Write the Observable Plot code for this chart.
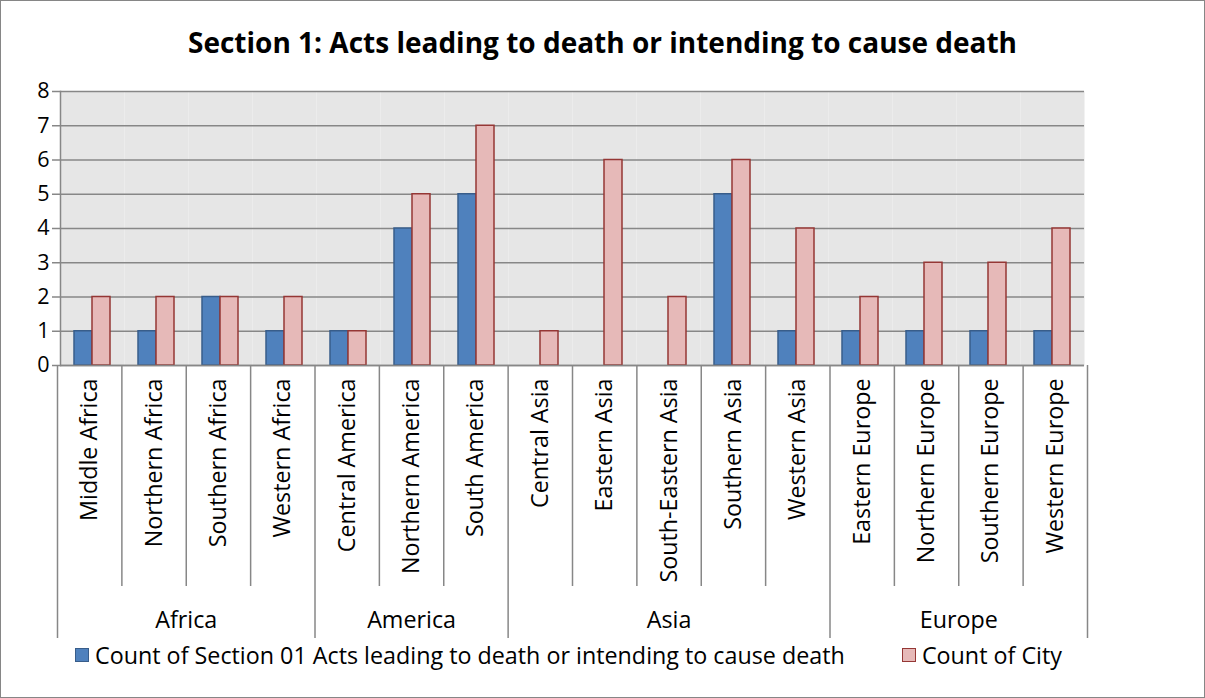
<!DOCTYPE html>
<html>
<head>
<meta charset="utf-8">
<script src="https://cdn.jsdelivr.net/npm/d3@7"></script>
<script src="https://cdn.jsdelivr.net/npm/@observablehq/plot@0.6"></script>
<style>
  html, body { margin: 0; padding: 0; background: #fff; }
  #chart { position: relative; width: 1205px; height: 698px; box-sizing: border-box; border: 1px solid #868686; background: #fff; font-family: "Open Sans", "Noto Sans", sans-serif; color: #000; overflow: hidden; }
  #title { position: absolute; left: 0; top: 24px; width: 1203px; text-align: center; font-weight: bold; font-size: 28px; line-height: 34px; }
  #upper, #lower { position: absolute; left: 0; }
  #upper { top: 0; }
  #lower { top: 364px; }
  #legend { position: absolute; top: 639px; left: 74px; display: flex; align-items: center; font-size: 23.3px; line-height: 30px; }
  .item { display: flex; align-items: center; }
  .sw { width: 12px; height: 12px; border: 1.5px solid; margin-right: 6px; }
</style>
</head>
<body>
<div id="chart">
  <div id="title"></div>
  <div id="upper"></div>
  <div id="lower"></div>
  <div id="legend"></div>
</div>
<script>
const chartTitle = "Section 1: Acts leading to death or intending to cause death";
const categories = ["Middle Africa", "Northern Africa", "Southern Africa", "Western Africa",
  "Central America", "Northern America", "South America",
  "Central Asia", "Eastern Asia", "South-Eastern Asia", "Southern Asia", "Western Asia",
  "Eastern Europe", "Northern Europe", "Southern Europe", "Western Europe"];
const categoryGroups = ["Africa", "Africa", "Africa", "Africa",
  "America", "America", "America",
  "Asia", "Asia", "Asia", "Asia", "Asia",
  "Europe", "Europe", "Europe", "Europe"];
const seriesNames = ["Count of Section 01 Acts leading to death or intending to cause death", "Count of City"];
const section01Counts = [1, 1, 2, 1, 1, 4, 5, null, null, null, 5, 1, 1, 1, 1, 1];
const cityCounts = [2, 2, 2, 2, 1, 5, 7, 1, 6, 2, 6, 4, 2, 3, 3, 4];
const yTicks = [0, 1, 2, 3, 4, 5, 6, 7, 8];

const fills = ["#4f81bd", "#e6b9b8"];
const strokes = ["#385d8a", "#953735"];
const axisGray = "#878787";
const fontFamily = "'Open Sans', 'Noto Sans', sans-serif";

document.getElementById("title").textContent = chartTitle;

const seriesValues = [section01Counts, cityCounts];
const rows = seriesValues.map((vals, s) =>
  categories.map((c, i) => ({category: c, series: seriesNames[s], value: vals[i]})));

const W = 1203, ML = 56, MR = 117;

const upper = Plot.plot({
  width: W, height: 380,
  marginLeft: ML, marginRight: MR, marginTop: 90, marginBottom: 16,
  style: {background: "transparent", overflow: "visible", fontFamily, color: "#000"},
  fx: {domain: categories, padding: 0, axis: null},
  x: {domain: seriesNames, paddingInner: 0, paddingOuter: 0.74, axis: null},
  y: {domain: [0, 8], axis: null},
  marks: [
    Plot.frame({fill: "#e6e6e6", stroke: null}),
    Plot.gridY(yTicks, {stroke: axisGray, strokeOpacity: 1, strokeWidth: 1.5}),
    ...rows.map((r, s) => Plot.barY(r, {fx: "category", x: "series", y: "value",
      fill: fills[s], stroke: strokes[s], strokeWidth: 1.5})),
    Plot.ruleY([0], {stroke: axisGray, strokeWidth: 1.5}),
    Plot.frame({anchor: "left", facetAnchor: "left", stroke: axisGray, strokeWidth: 1.5}),
    Plot.axisY(yTicks, {label: null, tickSize: 8, tickPadding: 3, stroke: axisGray, strokeWidth: 1.5,
      fontSize: 21.5, fill: "#000", facetAnchor: "left"})
  ]
});
document.getElementById("upper").appendChild(upper);

// lower two-level category axis
const n = categories.length;
const groups = [];
categoryGroups.forEach((g, i) => {
  const last = groups[groups.length - 1];
  if (last && last.name === g) last.end = i + 1;
  else groups.push({name: g, start: i, end: i + 1});
});
const groupBounds = [0, ...groups.map(g => g.end)];
const innerBounds = d3.range(n + 1).filter(i => !groupBounds.includes(i));

const lower = Plot.plot({
  width: W, height: 276,
  marginLeft: ML, marginRight: MR, marginTop: 0, marginBottom: 0,
  style: {background: "transparent", overflow: "visible", fontFamily, color: "#000"},
  x: {domain: [0, n], axis: null},
  y: {axis: null},
  marks: [
    Plot.ruleX(innerBounds, {stroke: axisGray, strokeWidth: 1.5, insetBottom: 55}),
    Plot.ruleX(groupBounds, {stroke: axisGray, strokeWidth: 1.5, insetBottom: 3}),
    Plot.text(categories, {x: (d, i) => i + 0.5, text: d => d, frameAnchor: "top", rotate: -90,
      textAnchor: "end", lineAnchor: "middle", dy: 13, fontSize: 23.3, fill: "#000"}),
    Plot.text(groups, {x: d => (d.start + d.end) / 2, text: "name", frameAnchor: "bottom",
      lineAnchor: "middle", dy: -21, fontSize: 23.3, fill: "#000"})
  ]
});
document.getElementById("lower").appendChild(lower);

// legend
const legend = document.getElementById("legend");
seriesNames.forEach((name, s) => {
  const item = document.createElement("div");
  item.className = "item";
  if (s > 0) item.style.marginLeft = "57px";
  const sw = document.createElement("div");
  sw.className = "sw";
  sw.style.background = fills[s];
  sw.style.borderColor = strokes[s];
  const label = document.createElement("span");
  label.textContent = name;
  item.appendChild(sw);
  item.appendChild(label);
  legend.appendChild(item);
});
</script>
</body>
</html>
